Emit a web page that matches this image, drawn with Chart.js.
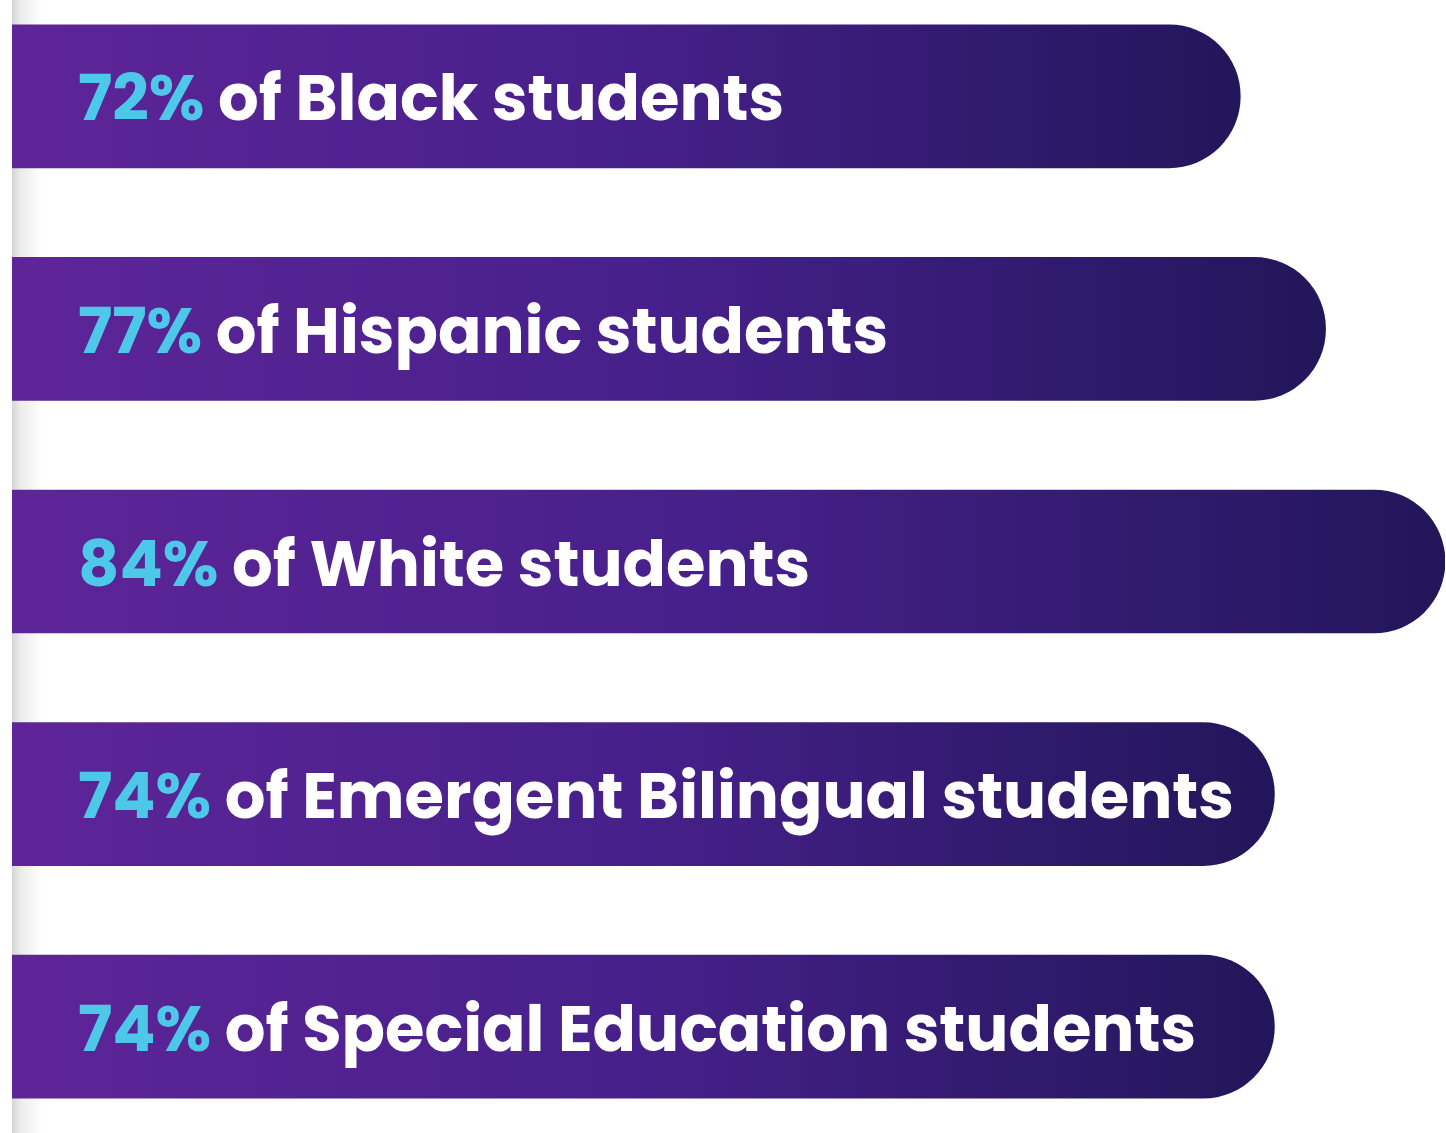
<!DOCTYPE html>
<html>
<head>
<meta charset="utf-8">
<script src="https://cdn.jsdelivr.net/npm/chart.js@4.4.1/dist/chart.umd.min.js"></script>
<style>
  html, body { margin: 0; padding: 0; background: #ffffff; overflow: hidden; }
  body { width: 1446px; height: 1133px; position: relative; }
  #fold { position: absolute; left: 12px; top: 0; width: 30px; height: 1133px;
          background: linear-gradient(to right, #d6d6d6 0%, #ececec 30%, #ffffff 100%); }
  #wrap { position: absolute; left: 0; top: -20px; width: 1446px; height: 1163px; }
</style>
</head>
<body>
<div id="fold"></div>
<div id="wrap"><canvas id="c"></canvas></div>
<script>
// ---- data ----
const groups = ["Black", "Hispanic", "White", "Emergent Bilingual", "Special Education"];
const values = [72, 77, 84, 74, 74];
const pctLabels = values.map(v => v + "%");
const restLabels = groups.map(g => " of " + g + " students");

const COLOR_START = "#5E2598";
const COLOR_MID = "#46208A";
const COLOR_END = "#22165A";
const CYAN = "#4DC8E8";
const FONT = "bold 64px Poppins, Inter, 'Open Sans', sans-serif";

const textPlugin = {
  id: "barText",
  afterDatasetsDraw(chart) {
    const ctx = chart.ctx;
    const meta = chart.getDatasetMeta(0);
    ctx.save();
    ctx.font = FONT;
    ctx.textBaseline = "alphabetic";
    ctx.textAlign = "left";
    meta.data.forEach((el, i) => {
      const x = chart.chartArea.left + 66;
      const y = el.y + 24;
      ctx.fillStyle = CYAN;
      ctx.fillText(pctLabels[i], x, y);
      const w = ctx.measureText(pctLabels[i]).width;
      ctx.fillStyle = "#ffffff";
      ctx.fillText(restLabels[i], x + w, y);
    });
    ctx.restore();
  }
};

new Chart(document.getElementById("c"), {
  type: "bar",
  data: {
    labels: groups,
    datasets: [{
      data: values,
      barThickness: 143,
      borderRadius: 72,
      borderSkipped: "start",
      backgroundColor(context) {
        const chart = context.chart;
        const area = chart.chartArea;
        const xs = chart.scales.x;
        if (!area || !xs) return COLOR_START;
        const v = values[context.dataIndex];
        const x1 = xs.getPixelForValue(v);
        const g = chart.ctx.createLinearGradient(area.left, 0, x1, 0);
        g.addColorStop(0, COLOR_START);
        g.addColorStop(0.5, COLOR_MID);
        g.addColorStop(1, COLOR_END);
        return g;
      }
    }]
  },
  options: {
    indexAxis: "y",
    responsive: true,
    maintainAspectRatio: false,
    animation: false,
    layout: { padding: { left: 12, right: 1, top: 0, bottom: 0 } },
    scales: {
      x: { display: false, min: 0, max: 84 },
      y: { display: false }
    },
    plugins: { legend: { display: false }, tooltip: { enabled: false } }
  },
  plugins: [textPlugin]
});
</script>
</body>
</html>
